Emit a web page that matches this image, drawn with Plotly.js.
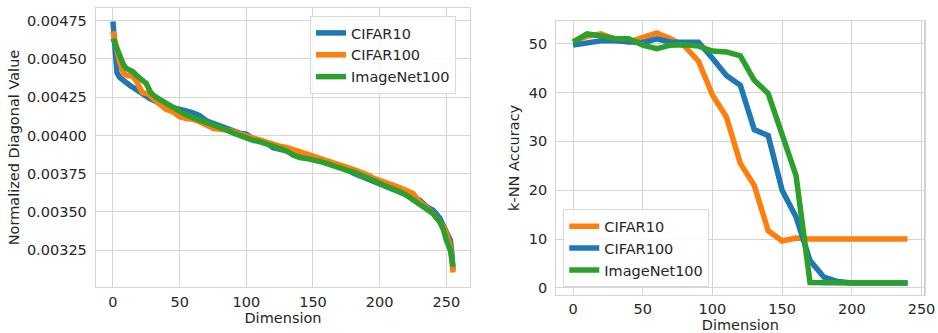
<!DOCTYPE html>
<html>
<head>
<meta charset="utf-8">
<script src="https://cdn.plot.ly/plotly-3.0.1.min.js"></script>
<style>html,body{margin:0;padding:0;background:#fff;}#chart{width:938px;height:333px;}</style>
</head>
<body>
<div id="chart"></div>
<script>
// Left panel: normalized diagonal values
const diagDims = [0,1,2,3,5,8,10,13,15,18,20,22,25,28,30,35,40,45,50,55,60,65,70,75,80,85,90,95,100,105,110,115,120,125,130,135,140,145,150,155,160,165,170,175,180,185,190,195,200,205,210,215,220,225,230,235,240,245,248,250,252,253,254,255];
const diagCifar10 = [0.004745,0.00461,0.00444,0.00441,0.00438,0.004355,0.00434,0.004325,0.004314,0.004295,0.00428,0.00427,0.00425,0.00424,0.004232,0.00421,0.004188,0.004182,0.004175,0.00416,0.004148,0.00413,0.004096,0.00408,0.00406,0.004045,0.00403,0.004015,0.004008,0.00398,0.00397,0.003955,0.00392,0.003912,0.003902,0.00389,0.003878,0.003866,0.003854,0.003838,0.003823,0.00381,0.003795,0.00378,0.003755,0.003738,0.00372,0.003702,0.003686,0.00367,0.003653,0.003637,0.00362,0.003598,0.003577,0.003535,0.003512,0.00346,0.00341,0.00338,0.00334,0.003315,0.00324,0.00312];
const diagCifar100 = [0.00468,0.00464,0.0046,0.00455,0.00448,0.004405,0.004394,0.00439,0.004384,0.00435,0.004307,0.00428,0.004275,0.004262,0.004242,0.004205,0.00417,0.004155,0.004122,0.004111,0.004105,0.00409,0.004068,0.004046,0.00404,0.004035,0.004028,0.00401,0.003996,0.003985,0.00397,0.003955,0.003943,0.00393,0.003922,0.003905,0.003893,0.00388,0.003865,0.003852,0.003839,0.003826,0.003812,0.003795,0.003778,0.003762,0.003747,0.003722,0.003704,0.00369,0.003675,0.00366,0.003643,0.00362,0.003566,0.003525,0.00349,0.003435,0.0034,0.00336,0.0033,0.003272,0.0032,0.003105];
const diagImageNet100 = [0.004634,0.00461,0.00458,0.00456,0.004515,0.00446,0.004438,0.004425,0.004416,0.00439,0.004373,0.004362,0.00434,0.004286,0.004264,0.004236,0.00421,0.004187,0.004155,0.004133,0.004117,0.004102,0.004089,0.004073,0.004057,0.004037,0.004017,0.003998,0.00398,0.003968,0.003959,0.003943,0.003926,0.003913,0.0039,0.003872,0.003856,0.00385,0.003843,0.00383,0.003817,0.0038,0.003784,0.003773,0.003762,0.003746,0.00373,0.003708,0.003686,0.00367,0.003653,0.003632,0.00361,0.003578,0.003544,0.003518,0.00349,0.003435,0.00338,0.003315,0.003272,0.00325,0.0032,0.003141];

// Right panel: k-NN accuracy
const knnDims = [0,10,20,30,40,50,60,70,80,90,100,110,120,130,140,150,160,170,180,190,200,210,220,230,240];
const knnCifar10 = [50.5,51.5,52,51,50.3,51.3,52.2,51,49.5,46.4,39.5,35,25.5,21,11.7,9.6,10.2,10,10,10,10,10,10,10,10];
const knnCifar100 = [49.7,50.2,50.6,50.6,50.5,50.2,51,50.3,50.3,50.3,47,43.5,41.5,32.4,31.2,20,14.5,5.6,2.2,1.3,1,1,1,1,1];
const knnImageNet100 = [50.3,52,51.6,51,51,49.7,49,49.7,49.8,49.5,48.5,48.3,47.5,42.5,39.8,31.8,23,1.1,1,1,1,1,1,1,1];

const leftYTicks = [0.00325,0.0035,0.00375,0.004,0.00425,0.0045,0.00475];
const xTicks = [0,50,100,150,200,250];
const rightYTicks = [0,10,20,30,40,50];

const BLUE='#1f77b4', ORANGE='#ff7f0e', GREEN='#2ca02c';
const LW = 5.5;

const traces = [
  {x: diagDims, y: diagCifar10, name:'CIFAR10', mode:'lines', line:{color:BLUE,width:LW}, xaxis:'x', yaxis:'y', legend:'legend'},
  {x: diagDims, y: diagCifar100, name:'CIFAR100', mode:'lines', line:{color:ORANGE,width:LW}, xaxis:'x', yaxis:'y', legend:'legend'},
  {x: diagDims, y: diagImageNet100, name:'ImageNet100', mode:'lines', line:{color:GREEN,width:LW}, xaxis:'x', yaxis:'y', legend:'legend'},
  {x: knnDims, y: knnCifar10, name:'CIFAR10', mode:'lines', line:{color:ORANGE,width:LW}, xaxis:'x2', yaxis:'y2', legend:'legend2'},
  {x: knnDims, y: knnCifar100, name:'CIFAR100', mode:'lines', line:{color:BLUE,width:LW}, xaxis:'x2', yaxis:'y2', legend:'legend2'},
  {x: knnDims, y: knnImageNet100, name:'ImageNet100', mode:'lines', line:{color:GREEN,width:LW}, xaxis:'x2', yaxis:'y2', legend:'legend2'}
];

const FONT = {family:'DejaVu Sans', size:14.5, color:'#262626'};
const GRID = '#d4d4d4';
function ax(extra){
  return Object.assign({
    showgrid:true, gridcolor:GRID, gridwidth:1,
    showline:true, linecolor:GRID, linewidth:1.2, mirror:true,
    zeroline:false, ticks:'', automargin:false,
    tickfont:FONT
  }, extra);
}

const layout = {
  width:938, height:333,
  margin:{l:0,r:0,t:0,b:0},
  paper_bgcolor:'#fff', plot_bgcolor:'#fff',
  font:FONT,
  showlegend:true,
  xaxis: ax({domain:[0.1023,0.5011], range:[-12.75,267.75], tickvals:xTicks, ticklabelstandoff:1,
    title:{text:'Dimension', font:FONT, standoff:3}}),
  yaxis: ax({domain:[0.1381,0.976], range:[0.0030095,0.004833], tickvals:leftYTicks, tickformat:'.5f', ticklabelstandoff:5,
    title:{text:'Normalized Diagonal Value', font:FONT, standoff:3}}),
  xaxis2: ax({domain:[0.5931,0.9854], range:[-12,252], tickvals:xTicks, anchor:'y2', ticklabelstandoff:0,
    title:{text:'Dimension', font:FONT, standoff:4}}),
  yaxis2: ax({domain:[0.1141,0.9378], range:[-1.45,54.7], tickvals:rightYTicks, anchor:'x2', ticklabelstandoff:5,
    title:{text:'k-NN Accuracy', font:FONT, standoff:5}}),
  legend:{x:0.3305, y:0.952, xanchor:'left', yanchor:'top', bgcolor:'rgba(255,255,255,0.85)',
    bordercolor:'#d9d9d9', borderwidth:1, font:FONT},
  legend2:{x:0.6005, y:0.1372, xanchor:'left', yanchor:'bottom', bgcolor:'rgba(255,255,255,0.85)',
    bordercolor:'#d9d9d9', borderwidth:1, font:FONT}
};

Plotly.newPlot('chart', traces, layout, {staticPlot:true, displayModeBar:false});
</script>
</body>
</html>
